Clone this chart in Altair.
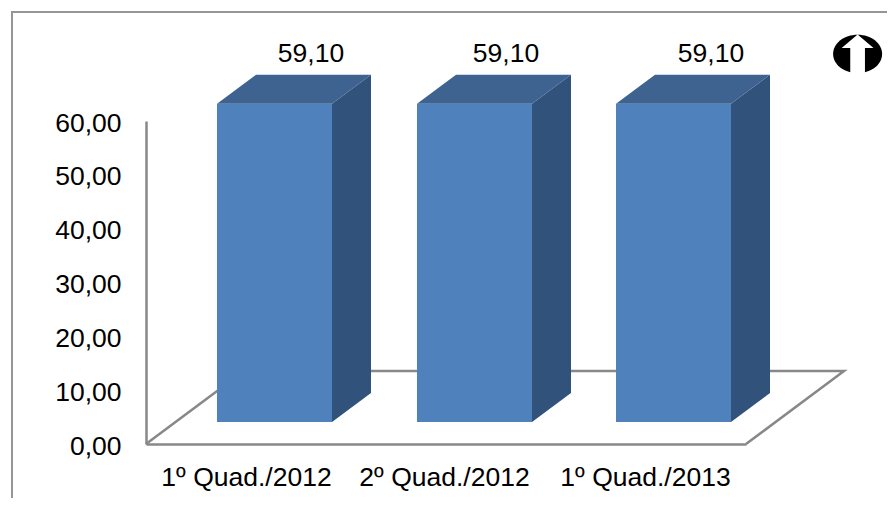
import altair as alt
import pandas as pd

categories = ["1º Quad./2012", "2º Quad./2012", "1º Quad./2013"]
values = [59.10, 59.10, 59.10]
value_labels = ["59,10", "59,10", "59,10"]
y_ticks = [0, 10, 20, 30, 40, 50, 60]

# Chart geometry, in axis units: one category slot is 1 on x
bar_left = [0.355, 1.355, 2.35]
bar_width = 0.575
label_x = [0.825, 1.80, 2.825]
base_lift = 4.09
bar_dx, bar_dy = 0.195, 5.39
floor_dx, floor_dy = 0.49, 13.56
tick_pos = [0.5, 1.49, 2.495]

FONT = "Liberation Sans"
FS = 26.5
GREY = "#888888"
FRONT, TOP, SIDE = "#4F81BD", "#3E6391", "#31527A"

xs = alt.Scale(domain=[0, 3], range=[0, 600], nice=False, zero=False)
ys = alt.Scale(domain=[0, 60], range=[323, 0], nice=False, zero=False)

front, side, top = [], [], []
for i, (l, v) in enumerate(zip(bar_left, values)):
    r = l + bar_width
    t = v + base_lift
    front.append(dict(x=l, x2=r, y=base_lift, y2=t))
    side += [dict(id=i, x=r, y=t, y2=base_lift),
             dict(id=i, x=r + bar_dx, y=t + bar_dy, y2=base_lift + bar_dy)]
    top += [dict(id=i, y=t, x=l, x2=r),
            dict(id=i, y=t + bar_dy, x=l + bar_dx, x2=r + bar_dx)]

x_axis = alt.Axis(
    values=tick_pos, labelExpr="['%s','%s','%s'][floor(datum.value)]" % tuple(categories),
    ticks=False, grid=False, domainColor=GREY, domainWidth=2.5, labelFont=FONT, labelFontSize=FS,
    labelColor="#000000", labelPadding=20, labelAngle=0, labelOverlap=False, labelFlush=False, title=None)
y_axis = alt.Axis(
    values=y_ticks, labelExpr="replace(format(datum.value,'.2f'),'.',',')",
    ticks=False, grid=False, domainColor=GREY, domainWidth=2.5, labelFont=FONT, labelFontSize=FS,
    labelColor="#000000", labelPadding=25, labelOffset=2, labelOverlap=False, labelFlush=False, title=None)

X = lambda: alt.X("x:Q", scale=xs, axis=x_axis)
Y = lambda: alt.Y("y:Q", scale=ys, axis=y_axis)

def path(points, colour, width):
    d = pd.DataFrame(points, columns=["x", "y"]).assign(o=range(len(points)))
    return alt.Chart(d).mark_line(color=colour, strokeWidth=width, clip=False).encode(
        x=X(), y=Y(), order="o:O")

floor_back = path([(0, 0), (floor_dx, floor_dy), (3 + floor_dx, floor_dy), (3, 0)], GREY, 2.5)
frame = path([(-0.67, -12), (-0.67, 80.25), (3.8, 80.25)], "#969696", 2)

front_l = alt.Chart(pd.DataFrame(front)).mark_rect(color=FRONT).encode(
    x=X(), x2="x2:Q", y=Y(), y2="y2:Q")
side_l = alt.Chart(pd.DataFrame(side)).mark_area(color=SIDE, orient="vertical").encode(
    x=X(), y=Y(), y2="y2:Q", detail="id:N")
top_l = alt.Chart(pd.DataFrame(top)).mark_area(color=TOP, orient="horizontal").encode(
    y=Y(), x=X(), x2="x2:Q", detail="id:N")

labels = alt.Chart(pd.DataFrame({"x": label_x, "y": values, "t": value_labels})).mark_text(
    font=FONT, fontSize=FS, color="#000000", dy=-72, baseline="middle", align="center"
).encode(x=X(), y=Y(), text="t:N")

ellipse = "M-1,0A1,0.78 0 1,1 1,0A1,0.78 0 1,1 -1,0Z"
arrow = "M0,-0.8L0.65,-0.24L0.3,-0.24L0.3,0.85L-0.3,0.85L-0.3,-0.24L-0.65,-0.24Z"
icon_pos = pd.DataFrame({"x": [3.558], "y": [72.45]})
icon_a = alt.Chart(icon_pos).mark_point(shape=ellipse, filled=True, color="#000000", opacity=1, size=2401).encode(x=X(), y=Y())
icon_b = alt.Chart(icon_pos).mark_point(shape=arrow, filled=True, color="#FFFFFF", opacity=1, size=2401).encode(x=X(), y=Y())

chart = alt.layer(frame, floor_back, front_l, side_l, top_l, labels, icon_a, icon_b).properties(
    width=600, height=323,
    padding={"left": 138, "top": 113, "right": 141, "bottom": 54},
    autosize=alt.AutoSizeParams(type="none"),
).configure_view(stroke=None)

chart.save("out.html", embed_options={"renderer": "svg", "actions": False})
